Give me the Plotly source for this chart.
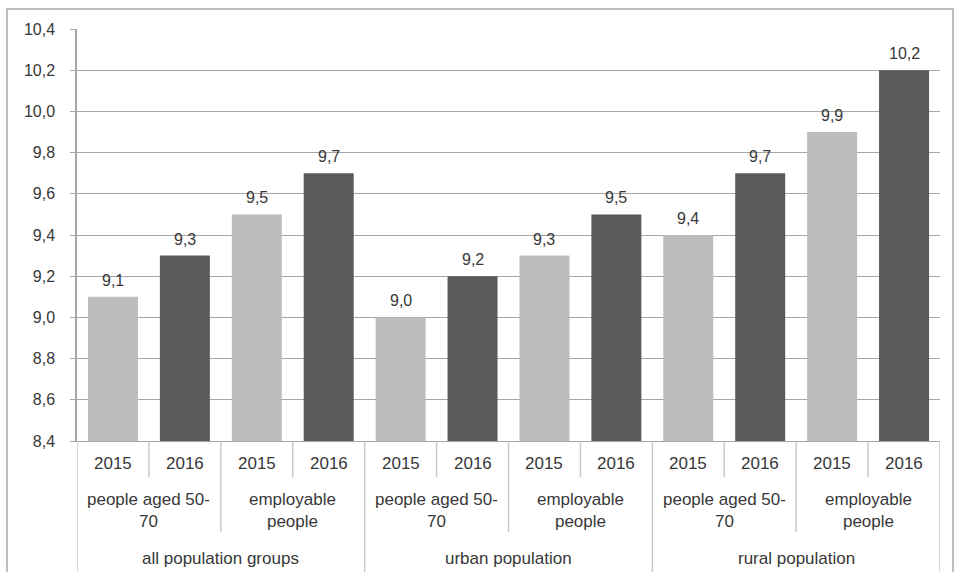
import plotly.graph_objects as go

# Data
groups = ["all population groups", "urban population", "rural population"]
subgroups = ["people aged 50-<br>70", "employable<br>people"]
years = ["2015", "2016"]
values = [9.1, 9.3, 9.5, 9.7,
          9.0, 9.2, 9.3, 9.5,
          9.4, 9.7, 9.9, 10.2]
y_ticks = [8.4, 8.6, 8.8, 9.0, 9.2, 9.4, 9.6, 9.8, 10.0, 10.2, 10.4]

LIGHT = "#bdbdbd"
DARK = "#5a5a5a"
TEXT = "#383838"
FONT = "Liberation Sans"
FS = 16
FS_CAT = 17

# Plot area geometry (pixels) used to convert to paper coordinates
W, H = 955, 572
L, R, T, B = 77, 15, 29, 131
PH = H - T - B


def py(y_px):
    return 1 - (y_px - T) / PH


def px(x_px):
    return (x_px - L) / (W - L - R)


n = len(values)
xs = list(range(n))
colors = [LIGHT if i % 2 == 0 else DARK for i in xs]

fig = go.Figure()
fig.add_trace(go.Bar(x=xs, y=values, marker=dict(color=colors, line=dict(width=0)),
                     hoverinfo="skip", showlegend=False))

annotations = []
# value labels above bars
for i, v in enumerate(values):
    annotations.append(dict(x=i, y=v, xref="x", yref="y", text=f"{v:.1f}".replace(".", ","),
                            showarrow=False, yanchor="bottom", yshift=6,
                            font=dict(family=FONT, size=FS, color=TEXT)))
# year labels
for i in xs:
    annotations.append(dict(x=i, y=py(463), xref="x", yref="paper", text=years[i % 2],
                            showarrow=False, yanchor="middle",
                            font=dict(family=FONT, size=FS_CAT, color=TEXT)))
# subgroup labels
for j in range(n // 2):
    annotations.append(dict(x=2 * j + 0.5, y=py(511), xref="x", yref="paper",
                            text=subgroups[j % 2], showarrow=False, yanchor="middle",
                            font=dict(family=FONT, size=FS_CAT, color=TEXT)))
# group labels
for k, g in enumerate(groups):
    annotations.append(dict(x=4 * k + 1.5, y=py(558), xref="x", yref="paper", text=g,
                            showarrow=False, yanchor="middle",
                            font=dict(family=FONT, size=FS_CAT, color=TEXT)))

shapes = []
DIV = "#c8c8c8"
# category dividers
for b in range(n + 1):
    xb = b - 0.5
    if b % 4 == 0:
        y_end = py(575)
    elif b % 2 == 0:
        y_end = py(532)
    else:
        y_end = py(477)
    shapes.append(dict(type="line", xref="x", yref="paper", x0=xb, x1=xb,
                       y0=0, y1=y_end, line=dict(color=DIV, width=1.5)))
# outer frame of the chart
shapes.append(dict(type="rect", xref="paper", yref="paper",
                   x0=px(7), x1=px(953), y0=py(9), y1=py(600),
                   line=dict(color="#bfbfbf", width=2), layer="below"))

fig.update_layout(
    width=W, height=H,
    margin=dict(l=L, r=R, t=T, b=B),
    paper_bgcolor="white", plot_bgcolor="white",
    separators=",.",
    bargap=0.305,
    annotations=annotations,
    shapes=shapes,
    xaxis=dict(range=[-0.5, n - 0.5], showticklabels=False, showgrid=False,
               zeroline=False, showline=True, linecolor="#a6a6a6", linewidth=1,
               fixedrange=True),
    yaxis=dict(range=[8.4, 10.4], tickvals=y_ticks, tickformat=".1f",
               showgrid=True, gridcolor="#a6a6a6", gridwidth=1,
               showline=True, linecolor="#a6a6a6", linewidth=1.5,
               ticks="outside", ticklen=5, tickcolor="#a6a6a6",
               ticklabelstandoff=12, zeroline=False,
               tickfont=dict(family=FONT, size=FS, color=TEXT), fixedrange=True),
)

fig.write_html("out.html")
